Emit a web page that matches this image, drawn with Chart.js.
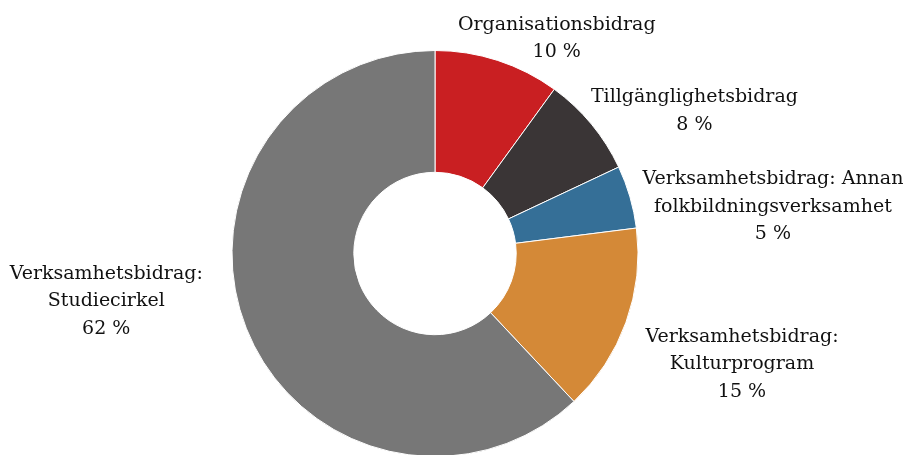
<!DOCTYPE html>
<html>
<head>
<meta charset="utf-8">
<script src="https://cdn.jsdelivr.net/npm/chart.js@4.4.1/dist/chart.umd.min.js"></script>
<style>
  html, body { margin: 0; padding: 0; background: #fff; overflow: hidden; }
  #wrap { position: relative; width: 906px; height: 460px; }
</style>
</head>
<body>
<div id="wrap"><canvas id="chart"></canvas></div>
<script>
// shares of the total, in percent
const categories = [
  ['Organisationsbidrag'],
  ['Tillgänglighetsbidrag'],
  ['Verksamhetsbidrag: Annan', 'folkbildningsverksamhet'],
  ['Verksamhetsbidrag:', 'Kulturprogram'],
  ['Verksamhetsbidrag:', 'Studiecirkel']
];
const shares = [10, 8, 5, 15, 62];
const sliceColors = ['#C91F22', '#3A3536', '#356F97', '#D48937', '#777777'];

// label box centre, relative to the outer edge of the slice at its middle angle
const labelOffsets = [[59, -22], [103, -13], [143, 10], [116, 42], [-140, -27]];

const outsideLabels = {
  id: 'outsideLabels',
  afterDatasetsDraw(chart) {
    const ctx = chart.ctx;
    const meta = chart.getDatasetMeta(0);
    const lineH = 27.5;
    ctx.save();
    ctx.font = '19px "DejaVu Serif", serif';
    ctx.fillStyle = '#111111';
    ctx.textAlign = 'center';
    ctx.textBaseline = 'middle';
    meta.data.forEach((arc, i) => {
      const p = arc.getProps(['x', 'y', 'startAngle', 'endAngle', 'outerRadius'], true);
      const mid = (p.startAngle + p.endAngle) / 2;
      const ax = p.x + Math.cos(mid) * p.outerRadius + labelOffsets[i][0];
      const ay = p.y + Math.sin(mid) * p.outerRadius + labelOffsets[i][1];
      const lines = categories[i].concat([shares[i] + ' %']);
      const top = ay - (lines.length - 1) * lineH / 2;
      lines.forEach((t, j) => ctx.fillText(t, ax, top + j * lineH));
    });
    ctx.restore();
  }
};

new Chart(document.getElementById('chart'), {
  type: 'doughnut',
  data: {
    labels: categories.map(c => c.join(' ')),
    datasets: [{
      data: shares,
      backgroundColor: sliceColors,
      borderColor: '#ffffff',
      borderWidth: 1
    }]
  },
  options: {
    responsive: true,
    maintainAspectRatio: false,
    animation: false,
    cutout: '40%',
    layout: { padding: { top: 50, bottom: 3, left: 0, right: 36 } },
    plugins: {
      legend: { display: false },
      tooltip: { enabled: false }
    }
  },
  plugins: [outsideLabels]
});
</script>
</body>
</html>
